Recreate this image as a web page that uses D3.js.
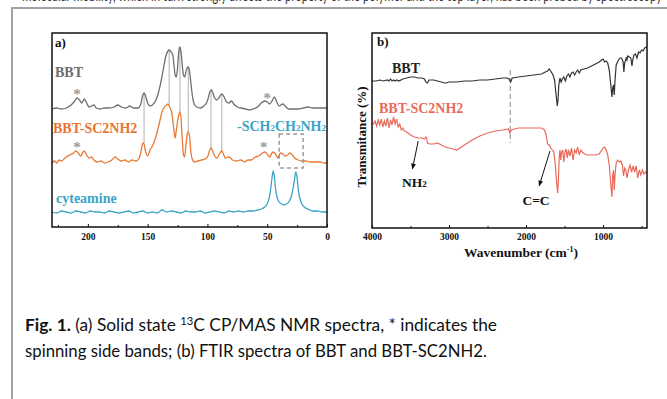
<!DOCTYPE html>
<html>
<head>
<meta charset="utf-8">
<script src="https://cdn.jsdelivr.net/npm/d3@7"></script>
<style>
  body { margin: 0; background: #fff; }
  svg text { font-family: "Liberation Serif", "Times New Roman", serif; font-weight: bold; }
  svg text.cap { font-family: Lato, "Open Sans", sans-serif; font-weight: normal; }
</style>
</head>
<body>
<div id="fig"></div>
<script>
// ---- panel a: 13C CP/MAS NMR, [ppm, intensity above own baseline] ----
const nmrBBT = [[230,-1],[226,0],[222,-1],[218,0],[214,3],[211,7],[209,10],[207,8],[205,5],[203,9],[201,5],[199,1],[197,2],[195,3],[193,0],[190,-1],[186,0],[182,0],[178,1],[175,3],[172,1],[168,0],[165,2],[162,0],[158,0],[156,3],[154,13],[153,15],[152,13],[150,5],[148,2],[146,3],[143,8],[140,20],[137,38],[135,51],[133,57],[132,58],[131,57],[129,53],[128,43],[127,33],[126,31],[125,40],[124,56],[123,61],[122,55],[121,42],[120,33],[119,31],[118,36],[117,40],[116,41],[115,37],[114,27],[113,16],[112,8],[111,4],[109,1],[106,0],[103,2],[100,7],[98,16],[97,18],[96,17],[94,10],[92,8],[90,11],[88,14],[86,11],[84,6],[82,5],[80,7],[78,4],[75,1],[72,0],[68,-1],[65,-2],[62,-1],[58,1],[55,5],[52,7],[50,6],[48,4],[46,7],[44,11],[42,6],[40,2],[37,4],[35,2],[32,-1],[28,-1],[24,-1],[20,0],[16,1],[12,0],[8,0],[4,0],[0,0]];

const nmrSC2 = [[230,-1],[228,1],[226,-1],[224,2],[222,1],[220,3],[218,5],[215,7],[212,9],[210,11],[208,9],[206,6],[204,10],[203,11],[201,7],[199,4],[197,5],[195,2],[192,0],[189,1],[186,-1],[183,0],[180,2],[177,5],[175,3],[172,1],[169,2],[166,0],[163,2],[160,1],[157,4],[155,14],[154,19],[153,18],[152,12],[150,6],[148,12],[146,16],[144,22],[142,30],[140,40],[138,50],[136,55],[134,57],[133,58],[132,56],[130,50],[128,32],[127,24],[126,32],[124,47],[123,50],[122,42],[121,22],[120,7],[119,5],[118,17],[117,27],[116,30],[115,26],[114,12],[113,4],[111,0],[108,1],[105,2],[102,3],[100,5],[98,12],[97,14],[96,12],[94,6],[92,4],[90,8],[88,11],[87,9],[85,4],[82,5],[79,2],[76,1],[72,2],[69,0],[66,2],[63,2],[60,5],[57,6],[54,9],[52,10],[50,8],[48,5],[46,9],[45,10],[43,8],[41,4],[39,9],[37,8],[35,6],[33,7],[31,9],[29,7],[27,4],[24,2],[21,1],[18,1],[14,0],[10,0],[6,0],[2,-1],[0,-1]];

const nmrCys = [[230,0],[226,-1],[222,1],[218,0],[214,-1],[210,1],[206,0],[202,-1],[198,1],[194,0],[190,0],[186,-1],[182,1],[178,0],[174,-1],[170,0],[166,1],[162,-1],[158,0],[154,1],[150,-1],[146,0],[142,-1],[138,2],[134,0],[130,1],[126,0],[122,-1],[118,1],[114,0],[110,0],[106,1],[102,-1],[98,0],[94,1],[90,0],[86,-1],[82,1],[78,0],[74,1],[70,0],[66,1],[62,1],[58,2],[55,3],[52,5],[50,8],[48,16],[47,24],[46,34],[45,41],[44,35],[43,23],[42,16],[40,10],[38,8],[36,7],[34,8],[32,10],[30,15],[28,26],[27,34],[26,40],[25,34],[24,22],[23,15],[21,8],[19,5],[16,3],[12,1],[8,1],[4,0],[0,0]];

const nmrOffsets = { bbt: 119, sc2: 65, cys: 15 };
const nmrTicks = [0, 50, 100, 150, 200];
const nmrMinor = [25, 75, 125, 175, 225];
const sharedPeaks = [153, 132, 123, 116, 97, 88];
const sidebandsBBT = [209, 50];
const sidebandsSC2 = [209, 53];

// ---- panel b: FTIR, [wavenumber, transmittance a.u.] ----
const irBBT = [[4000,147],[3950,147],[3900,148],[3850,147],[3800,148],[3780,147],[3760,149],[3740,147],[3720,148],[3700,147],[3680,148],[3650,147],[3600,149],[3550,150],[3500,151],[3450,151],[3400,150],[3350,150],[3320,149],[3300,146],[3280,145],[3260,148],[3200,148],[3150,147],[3100,146],[3060,145],[3040,145],[3000,146],[2900,146],[2800,147],[2700,147],[2600,148],[2500,148],[2400,149],[2300,150],[2250,150],[2220,149],[2200,146],[2180,150],[2100,151],[2000,152],[1900,153],[1800,154],[1750,156],[1720,157],[1700,159],[1680,157],[1650,153],[1630,148],[1610,133],[1595,122],[1585,128],[1575,143],[1560,150],[1545,146],[1530,149],[1510,151],[1490,147],[1470,152],[1450,154],[1430,151],[1410,155],[1390,156],[1370,153],[1350,156],[1330,158],[1310,155],[1290,158],[1250,159],[1200,160],[1150,162],[1100,164],[1050,166],[1020,168],[1000,169],[980,166],[960,167],[940,165],[920,158],[900,143],[885,131],[875,140],[865,143],[855,133],[845,148],[830,163],[800,168],[780,170],[760,170],[740,166],[730,156],[720,165],[700,170],[690,168],[680,172],[660,171],[640,170],[625,162],[615,168],[600,173],[580,174],[560,170],[540,176],[520,175],[500,178],[480,177],[460,180],[440,181],[430,181]];

const irSC2 = [[4000,105],[3980,104],[3960,107],[3940,102],[3920,108],[3900,103],[3880,109],[3860,101],[3840,107],[3820,102],[3800,110],[3780,100],[3760,108],[3740,103],[3720,111],[3700,104],[3680,109],[3660,101],[3640,104],[3620,98],[3600,100],[3580,97],[3550,96],[3500,93],[3450,91],[3400,90],[3350,90],[3320,89],[3300,91],[3290,90],[3280,85],[3250,84],[3200,84],[3150,85],[3100,83],[3050,81],[3000,80],[2950,79],[2900,78],[2860,80],[2800,83],[2700,88],[2600,92],[2500,95],[2400,97],[2300,98],[2230,99],[2210,95],[2190,98],[2100,100],[2000,100],[1900,100],[1800,100],[1760,98],[1740,93],[1720,84],[1700,83],[1680,80],[1660,78],[1640,76],[1620,63],[1600,43],[1590,35],[1580,48],[1570,70],[1560,78],[1550,68],[1540,75],[1525,78],[1510,66],[1495,76],[1480,79],[1465,70],[1450,78],[1430,72],[1410,80],[1390,68],[1370,78],[1350,75],[1330,81],[1310,73],[1290,78],[1270,76],[1240,74],[1200,73],[1150,73],[1100,73],[1050,74],[1000,80],[980,81],[960,78],[940,73],[920,63],[900,43],[885,31],[875,53],[865,58],[855,38],[845,53],[830,65],[810,68],[790,66],[770,67],[750,63],[735,52],[720,60],[705,58],[690,50],[670,58],[650,63],[630,56],[610,62],[590,56],[570,62],[550,50],[530,58],[510,53],[490,58],[470,54],[450,56],[430,54]];

const irTicks = [1000, 2000, 3000, 4000];
const irMinor = [500, 1500, 2500, 3500];

const W = 667, H = 399;
const serif = '"Liberation Serif", "Times New Roman", serif';
const svg = d3.select("#fig").append("svg")
  .attr("width", W).attr("height", H)
  .style("display", "block");

svg.append("rect").attr("width", W).attr("height", H).attr("fill", "#fff");

// bits of the previous text line, cut off at the top
svg.append("text").attr("class", "cap")
  .attr("x", 22).attr("y", 0.5)
  .attr("font-size", 17).attr("fill", "#333")
  .attr("textLength", 640).attr("lengthAdjust", "spacingAndGlyphs")
  .text("molecular mobility, which in turn strongly affects the property of the polymer and the top layer, has been probed by spectroscopy");

// outer page frame
svg.append("path")
  .attr("d", `M${W},8H12V${H}`)
  .attr("fill", "none").attr("stroke", "#a3a3a3").attr("stroke-width", 2);

const arrowColor = "#111";
svg.append("defs").append("marker")
  .attr("id", "head").attr("viewBox", "0 0 10 10")
  .attr("refX", 9).attr("refY", 5)
  .attr("markerWidth", 6).attr("markerHeight", 6)
  .attr("orient", "auto")
  .append("path").attr("d", "M0,1L10,5L0,9Z").attr("fill", arrowColor);

// ================= panel a =================
const xA = d3.scaleLinear().domain([230, 0]).range([52, 327]);
const yA = d3.scaleLinear().domain([0, 194]).range([227, 33]);
const ga = svg.append("g");

function nmrLine(off) {
  return d3.line().x(d => xA(d[0])).y(d => yA(d[1] + off)).curve(d3.curveMonotoneX);
}

// grey guide lines between the BBT and BBT-SC2NH2 peaks
const lookup = (arr, p) => arr.find(d => d[0] === p)[1];
ga.selectAll(".guide").data(sharedPeaks).join("line")
  .attr("x1", d => xA(d)).attr("x2", d => xA(d))
  .attr("y1", d => yA(lookup(nmrBBT, d) + nmrOffsets.bbt))
  .attr("y2", d => yA(lookup(nmrSC2, d) + nmrOffsets.sc2))
  .attr("stroke", "#bdbdbd").attr("stroke-width", 1.2);

ga.append("path").datum(nmrBBT).attr("d", nmrLine(nmrOffsets.bbt))
  .attr("fill", "none").attr("stroke", "#6f6f6f").attr("stroke-width", 1.3);
ga.append("path").datum(nmrSC2).attr("d", nmrLine(nmrOffsets.sc2))
  .attr("fill", "none").attr("stroke", "#e97a35").attr("stroke-width", 1.3);
ga.append("path").datum(nmrCys).attr("d", nmrLine(nmrOffsets.cys))
  .attr("fill", "none").attr("stroke", "#3aa3c6").attr("stroke-width", 1.3);

// spinning side band stars
ga.selectAll(".starA").data(sidebandsBBT).join("text")
  .attr("x", d => xA(d)).attr("y", d => yA(lookup(nmrBBT, d) + nmrOffsets.bbt) + 1)
  .attr("text-anchor", "middle").attr("font-size", 15).attr("font-weight", "normal")
  .attr("fill", "#9a9a9a").text("*");
ga.selectAll(".starB").data(sidebandsSC2).join("text")
  .attr("x", d => xA(d)).attr("y", d => yA(12 + nmrOffsets.sc2) + 2)
  .attr("text-anchor", "middle").attr("font-size", 15).attr("font-weight", "normal")
  .attr("fill", "#9a9a9a").text("*");

// dashed box around the cysteamine signals
ga.append("rect")
  .attr("x", xA(40)).attr("y", yA(93))
  .attr("width", xA(20) - xA(40)).attr("height", yA(59) - yA(93))
  .attr("fill", "none").attr("stroke", "#9a9a9a").attr("stroke-width", 1.5)
  .attr("stroke-dasharray", "4,3");

// axis a
function styleAxis(g) {
  g.attr("font-family", null).attr("font-size", null);
  g.select(".domain").remove();
  g.selectAll("line").attr("stroke", "#111");
  g.selectAll("text").style("font-family", serif).style("font-weight", "bold")
    .attr("font-size", 9.5).attr("fill", "#111");
}
ga.append("g").attr("transform", "translate(0,227)")
  .call(d3.axisBottom(xA).tickValues(nmrTicks).tickSize(-3).tickPadding(6).tickFormat(d3.format("d")))
  .call(styleAxis);
ga.append("g").attr("transform", "translate(0,227)")
  .call(d3.axisBottom(xA).tickValues(nmrMinor).tickSize(-2).tickFormat(""))
  .call(styleAxis);

ga.append("rect").attr("x", 52).attr("y", 33).attr("width", 275).attr("height", 194)
  .attr("fill", "none").attr("stroke", "#111").attr("stroke-width", 1.5);

ga.append("text").attr("x", 55).attr("y", 47).attr("font-size", 13).attr("fill", "#111").text("a)");
ga.append("text").attr("x", 55).attr("y", 77).attr("font-size", 14).attr("fill", "#6b6b6b").text("BBT");
ga.append("text").attr("x", 53).attr("y", 133).attr("font-size", 14).attr("fill", "#e8742f").text("BBT-SC2NH2");
ga.append("text").attr("x", 56).attr("y", 203).attr("font-size", 14).attr("fill", "#3aa3c6").text("cyteamine");

const sch = ga.append("text").attr("x", 326).attr("y", 131).attr("font-size", 14)
  .attr("text-anchor", "end").attr("fill", "#3aa3c6");
[["-SCH", false], ["2", true], ["CH", false], ["2", true], ["NH", false], ["2", true]].forEach(([t, sub]) => {
  sch.append("tspan").attr("font-size", sub ? 9 : 14).text(t);
});

// ================= panel b =================
const xB = d3.scaleLinear().domain([4000, 430]).range([372, 647]);
const yB = d3.scaleLinear().domain([0, 195]).range([228, 33]);
const gb = svg.append("g");

const irLine = d3.line().x(d => xB(d[0])).y(d => yB(d[1]));

gb.append("line")
  .attr("x1", xB(2205)).attr("x2", xB(2205))
  .attr("y1", yB(158)).attr("y2", yB(85))
  .attr("stroke", "#999").attr("stroke-width", 1.2).attr("stroke-dasharray", "5,3");

gb.append("path").datum(irBBT).attr("d", irLine)
  .attr("fill", "none").attr("stroke", "#333").attr("stroke-width", 1.2);
gb.append("path").datum(irSC2).attr("d", irLine)
  .attr("fill", "none").attr("stroke", "#e96a5b").attr("stroke-width", 1.2);

// annotation arrows
gb.append("line")
  .attr("x1", xB(3400)).attr("y1", yB(87)).attr("x2", xB(3475)).attr("y2", yB(59))
  .attr("stroke", arrowColor).attr("stroke-width", 1).attr("marker-end", "url(#head)");
gb.append("line")
  .attr("x1", xB(1690)).attr("y1", yB(77)).attr("x2", xB(1830)).attr("y2", yB(42))
  .attr("stroke", arrowColor).attr("stroke-width", 1).attr("marker-end", "url(#head)");

const nh = gb.append("text").attr("x", 402).attr("y", 187).attr("font-size", 13.5).attr("fill", "#111");
nh.append("tspan").text("NH");
nh.append("tspan").attr("font-size", 9).text("2");
gb.append("text").attr("x", 536).attr("y", 205).attr("text-anchor", "middle")
  .attr("font-size", 13.5).attr("fill", "#111").text("C=C");

gb.append("g").attr("transform", "translate(0,228)")
  .call(d3.axisBottom(xB).tickValues(irTicks).tickSize(-3).tickPadding(5).tickFormat(d3.format("d")))
  .call(styleAxis);
gb.append("g").attr("transform", "translate(0,228)")
  .call(d3.axisBottom(xB).tickValues(irMinor).tickSize(-2).tickFormat(""))
  .call(styleAxis);

gb.append("rect").attr("x", 372).attr("y", 33).attr("width", 275).attr("height", 195)
  .attr("fill", "none").attr("stroke", "#111").attr("stroke-width", 1.5);

gb.append("text").attr("x", 377).attr("y", 46).attr("font-size", 13).attr("fill", "#111").text("b)");
gb.append("text").attr("x", 392).attr("y", 73).attr("font-size", 14).attr("fill", "#222").text("BBT");
gb.append("text").attr("x", 379).attr("y", 113).attr("font-size", 14).attr("fill", "#e96a5b").text("BBT-SC2NH2");

const xt = gb.append("text").attr("x", 521).attr("y", 257).attr("text-anchor", "middle")
  .attr("font-size", 13.5).attr("fill", "#111");
xt.append("tspan").text("Wavenumber (cm");
xt.append("tspan").attr("font-size", 8).attr("dy", -5).text("-1");
xt.append("tspan").attr("dy", 5).text(")");

gb.append("text").attr("transform", "translate(366,137) rotate(-90)")
  .attr("text-anchor", "middle").attr("font-size", 13).attr("fill", "#111")
  .text("Transmitance (%)");

// ================= caption =================
const c1 = svg.append("text").attr("class", "cap").attr("x", 25).attr("y", 331)
  .attr("font-size", 17).attr("fill", "#111")
  .attr("textLength", 472).attr("lengthAdjust", "spacingAndGlyphs");
c1.append("tspan").attr("font-weight", "bold").text("Fig. 1.");
c1.append("tspan").text(" (a) Solid state ");
c1.append("tspan").attr("font-size", 11).attr("dy", -6).text("13");
c1.append("tspan").attr("dy", 6).text("C CP/MAS NMR spectra, * indicates the");

svg.append("text").attr("class", "cap").attr("x", 25).attr("y", 357)
  .attr("font-size", 17).attr("fill", "#111")
  .attr("textLength", 462).attr("lengthAdjust", "spacingAndGlyphs")
  .text("spinning side bands; (b) FTIR spectra of BBT and BBT-SC2NH2.");
</script>
</body>
</html>
